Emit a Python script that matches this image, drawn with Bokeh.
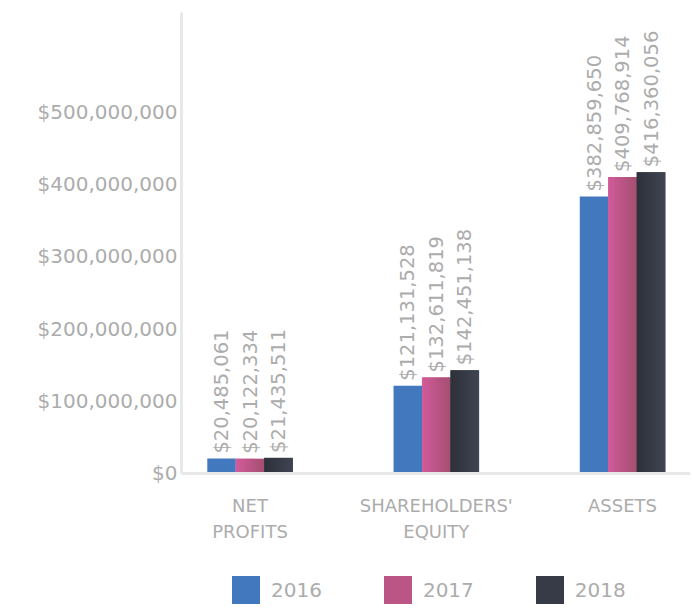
import math
from bokeh.plotting import figure
from bokeh.models import (ColumnDataSource, Range1d, FixedTicker, NumeralTickFormatter,
                          Legend, LegendItem)
from bokeh.embed import file_html
from bokeh.resources import INLINE
from bokeh.core.properties import value

categories = ["NET\nPROFITS", "SHAREHOLDERS'\nEQUITY", "ASSETS"]
years = ["2016", "2017", "2018"]
v2016 = [20485061, 121131528, 382859650]
v2017 = [20122334, 132611819, 409768914]
v2018 = [21435511, 142451138, 416360056]
series = [v2016, v2017, v2018]
colors = ["#4279be", "#bb5586", "#373b47"]
# left -> right shading of each series' bars (None = flat colour)
gradients = [None, ("#d35b9d", "#a34f6e"), ("#2d303a", "#404553")]
y_ticks = [0, 100000000, 200000000, 300000000, 400000000, 500000000]

FONT = "DejaVu Sans"
GRAY = "#acacac"
BAR_W = 0.153
N_STRIPS = 12
Y_TOP = 637000000
Y_BOTTOM = -189500000   # room below the baseline for category labels and legend


def mix(c1, c2, t):
    a = [int(c1[i:i + 2], 16) for i in (1, 3, 5)]
    b = [int(c2[i:i + 2], 16) for i in (1, 3, 5)]
    return "#" + "".join("%02x" % round(a[k] + (b[k] - a[k]) * t) for k in range(3))


p = figure(width=692, height=610, output_backend="svg", toolbar_location=None,
           x_range=Range1d(-0.368, 2.365), y_range=Range1d(Y_BOTTOM, Y_TOP),
           min_border_left=181, min_border_top=12, min_border_right=2,
           min_border_bottom=0)
p.outline_line_color = None
p.xgrid.visible = False
p.ygrid.visible = False

renderers = []
for j, (vals, col, grad) in enumerate(zip(series, colors, gradients)):
    xs = [i + (j - 1) * BAR_W for i in range(len(categories))]
    src = ColumnDataSource(dict(x=xs, top=vals,
                                lab=["${:,}".format(v) for v in vals]))
    r = p.vbar(x="x", top="top", bottom=0, width=BAR_W, source=src,
               fill_color=col, line_color=None)
    renderers.append(r)
    if grad is not None:
        sw = BAR_W / N_STRIPS
        for k in range(N_STRIPS):
            sx = [x - BAR_W / 2 + (k + 0.5) * sw for x in xs]
            p.vbar(x=sx, top=vals, bottom=0, width=sw * 1.08,
                   fill_color=mix(grad[0], grad[1], (k + 0.5) / N_STRIPS),
                   line_color=None)

for j, vals in enumerate(series):
    xs = [i + (j - 1) * BAR_W for i in range(len(categories))]
    src = ColumnDataSource(dict(x=xs, top=vals,
                                lab=["${:,}".format(v) for v in vals]))
    p.text(x="x", y="top", text="lab", source=src, angle=math.pi / 2,
           text_align="left", text_baseline="middle", y_offset=-5,
           text_font=value(FONT), text_font_size="19.5px", text_color=GRAY)

p.yaxis.ticker = FixedTicker(ticks=y_ticks)
p.yaxis.bounds = (0, Y_TOP)
p.yaxis.formatter = NumeralTickFormatter(format="$0,0")
p.yaxis.axis_line_color = "#e8e8e8"
p.yaxis.axis_line_width = 3
p.yaxis.major_tick_line_color = None
p.yaxis.minor_tick_line_color = None
p.yaxis.major_tick_out = 0
p.yaxis.major_label_standoff = 4
p.yaxis.major_label_text_font = FONT
p.yaxis.major_label_text_font_size = "20px"
p.yaxis.major_label_text_color = GRAY

p.xaxis.fixed_location = 0
p.xaxis.ticker = FixedTicker(ticks=list(range(len(categories))))
p.xaxis.major_label_overrides = {i: c for i, c in enumerate(categories)}
p.xaxis.axis_line_color = "#e8e8e8"
p.xaxis.axis_line_width = 3
p.xaxis.major_tick_line_color = None
p.xaxis.minor_tick_line_color = None
p.xaxis.major_tick_out = 0
p.xaxis.major_label_standoff = 22
p.xaxis.major_label_text_font = FONT
p.xaxis.major_label_text_font_size = "18px"
p.xaxis.major_label_text_color = GRAY

legend = Legend(items=[LegendItem(label=y, renderers=[r]) for y, r in zip(years, renderers)],
                orientation="horizontal", location=(47, 3))
legend.glyph_width = 35
legend.glyph_height = 35
legend.label_standoff = 8
legend.spacing = 58
legend.label_text_font = FONT
legend.label_text_font_size = "20px"
legend.label_text_color = GRAY
legend.border_line_color = None
legend.background_fill_alpha = 0
legend.margin = 0
legend.padding = 0
p.add_layout(legend, "center")

open("out.html", "w").write(file_html(p, INLINE))
